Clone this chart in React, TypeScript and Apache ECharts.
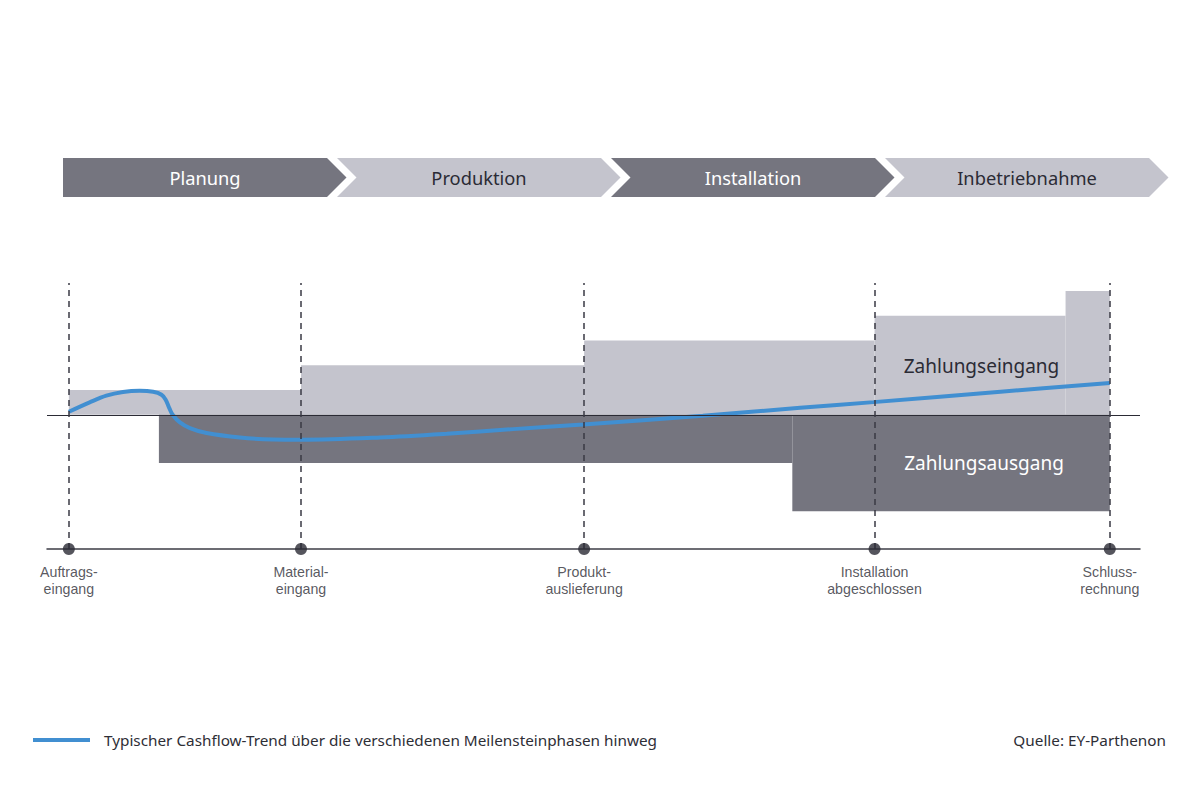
import React, { useEffect, useRef } from "react";
import * as echarts from "echarts";

// ---- data (x: project timeline 0..100, y: relative cash amount) ----
const phaseNames = ["Planung", "Produktion", "Installation", "Inbetriebnahme"];
const milestoneX = [0, 22.3, 49.5, 77.4, 100];
const milestoneLabels = [
  "Auftrags-\neingang",
  "Material-\neingang",
  "Produkt-\nauslieferung",
  "Installation\nabgeschlossen",
  "Schluss-\nrechnung",
];
const inflowStart = [0, 22.3, 49.5, 77.4, 95.75];
const inflowEnd = [22.3, 49.5, 77.4, 95.75, 100];
const inflowValue = [1, 2, 3, 4, 5];
const outflowStart = [8.65, 69.5];
const outflowEnd = [69.5, 100];
const outflowValue = [-1.95, -3.9];
const trendX = [0, 2.0, 3.6, 5.2, 6.8, 8.1, 8.9, 9.3, 9.65, 9.97, 10.67, 11.63, 13.23, 16.43, 19.63, 22.3, 29.9, 36.3, 42.7, 49.4, 60.9, 70.25, 77.3, 89.5, 100];
const trendY = [0.12, 0.5, 0.77, 0.92, 0.97, 0.93, 0.81, 0.61, 0.27, 0.0, -0.31, -0.54, -0.74, -0.92, -1.0, -1.01, -0.92, -0.77, -0.58, -0.39, -0.04, 0.28, 0.51, 0.93, 1.28];
const inflowLabel = "Zahlungseingang";
const outflowLabel = "Zahlungsausgang";
const trendName = "Typischer Cashflow-Trend über die verschiedenen Meilensteinphasen hinweg";
const sourceText = "Quelle: EY-Parthenon";

const DARK = "#75757f";
const LIGHT = "#c4c4cd";
const BLUE = "#418fd1";
const INK = "#2b2b35";
const FONT = "'Noto Sans', Roboto, sans-serif";
const LABEL_FONT = "'Liberation Sans', Arial, sans-serif";

export default function App() {
  const ref = useRef<HTMLDivElement>(null);
  useEffect(() => {
    if (!ref.current) return;
    const chart = echarts.init(ref.current, null, { renderer: "svg" });

    const blocks = (starts: number[], ends: number[], vals: number[]) =>
      starts.map((s, i) => [s, ends[i], vals[i]]);

    const rectRender = (color: string) => (params: any, api: any) => {
      const p0 = api.coord([api.value(0), 0]);
      const p1 = api.coord([api.value(1), api.value(2)]);
      return {
        type: "rect",
        shape: {
          x: p0[0],
          y: Math.min(p0[1], p1[1]),
          width: p1[0] - p0[0],
          height: Math.abs(p1[1] - p0[1]),
        },
        style: { fill: color },
      };
    };

    // phase chevrons
    const top = 158, bottom = 197, mid = 177.5, d = 19.5;
    const phaseGraphics: any[] = [];
    phaseNames.forEach((name, i) => {
      const x0 = 63 + i * 274;
      const x1 = x0 + 264;
      const pts =
        i === 0
          ? [[x0, top], [x1, top], [x1 + d, mid], [x1, bottom], [x0, bottom]]
          : [[x0, top], [x1, top], [x1 + d, mid], [x1, bottom], [x0, bottom], [x0 + d, mid]];
      const dark = i % 2 === 0;
      phaseGraphics.push({
        type: "polygon",
        shape: { points: pts },
        style: { fill: dark ? DARK : LIGHT },
      });
      phaseGraphics.push({
        type: "text",
        x: x0 + 142,
        y: mid,
        style: {
          text: name,
          fill: dark ? "#ffffff" : INK,
          font: `18.3px ${FONT}`,
          textAlign: "center",
          textVerticalAlign: "middle",
        },
      });
    });

    const option: any = {
      animation: false,
      grid: { left: 47, right: 60, top: 283, bottom: 243 },
      xAxis: {
        type: "value",
        min: -2.1,
        max: 102.9,
        axisLine: { show: true, onZero: false, lineStyle: { color: "#3c3c46", width: 1.5 } },
        axisTick: { show: false },
        axisLabel: { show: false },
        splitLine: { show: false },
      },
      yAxis: {
        type: "value",
        min: -5.42,
        max: 5.32,
        axisLine: { show: false },
        axisTick: { show: false },
        axisLabel: { show: false },
        splitLine: { show: false },
      },
      series: [
        {
          type: "custom",
          name: inflowLabel,
          renderItem: rectRender(LIGHT),
          data: blocks(inflowStart, inflowEnd, inflowValue),
          z: 1,
          silent: true,
        },
        {
          type: "custom",
          name: outflowLabel,
          renderItem: rectRender(DARK),
          data: blocks(outflowStart, outflowEnd, outflowValue),
          z: 1,
          silent: true,
        },
        {
          type: "line",
          name: trendName,
          data: trendX.map((x, i) => [x, trendY[i]]),
          smooth: 0.35,
          showSymbol: false,
          lineStyle: { color: BLUE, width: 4 },
          z: 3,
          markLine: {
            silent: true,
            symbol: "none",
            label: { show: false },
            lineStyle: { color: "#2b2b35", width: 1.2, type: "solid" },
            data: [{ yAxis: 0 }],
          },
        },
        {
          type: "scatter",
          name: "Meilensteine",
          data: milestoneX.map((x) => [x, -5.42]),
          symbolSize: 12,
          clip: false,
          itemStyle: { color: INK },
          z: 6,
          label: {
            show: true,
            position: "bottom",
            distance: 9,
            formatter: (p: any) => milestoneLabels[p.dataIndex],
            fontSize: 14.2,
            lineHeight: 16.5,
            fontFamily: LABEL_FONT,
            color: "#2e2e36",
            align: "center",
          },
          markLine: {
            silent: true,
            symbol: "none",
            label: { show: false },
            lineStyle: { color: "#3a3a44", width: 1.5, type: [6, 5] },
            data: milestoneX.map((x) => ({ xAxis: x })),
          },
        },
      ],
      graphic: [
        ...phaseGraphics,
        {
          type: "text",
          x: 981.5,
          y: 366,
          z: 10,
          style: {
            text: inflowLabel,
            fill: INK,
            font: `19px ${FONT}`,
            textAlign: "center",
            textVerticalAlign: "middle",
          },
        },
        {
          type: "text",
          x: 984,
          y: 463,
          z: 10,
          style: {
            text: outflowLabel,
            fill: "#ffffff",
            font: `19px ${FONT}`,
            textAlign: "center",
            textVerticalAlign: "middle",
          },
        },
        {
          type: "line",
          shape: { x1: 33, y1: 740, x2: 90, y2: 740 },
          style: { stroke: BLUE, lineWidth: 4 },
        },
        {
          type: "text",
          x: 104,
          y: 740,
          style: {
            text: trendName,
            fill: "#2e2e36",
            font: `15.3px ${FONT}`,
            textAlign: "left",
            textVerticalAlign: "middle",
          },
        },
        {
          type: "text",
          x: 1166,
          y: 740,
          style: {
            text: sourceText,
            fill: "#2e2e36",
            font: `15.3px ${FONT}`,
            textAlign: "right",
            textVerticalAlign: "middle",
          },
        },
      ],
    };

    chart.setOption(option);
    return () => chart.dispose();
  }, []);

  return (
    <div
      ref={ref}
      style={{ width: 1200, height: 792, position: "absolute", left: 0, top: 0, background: "#ffffff" }}
    />
  );
}
